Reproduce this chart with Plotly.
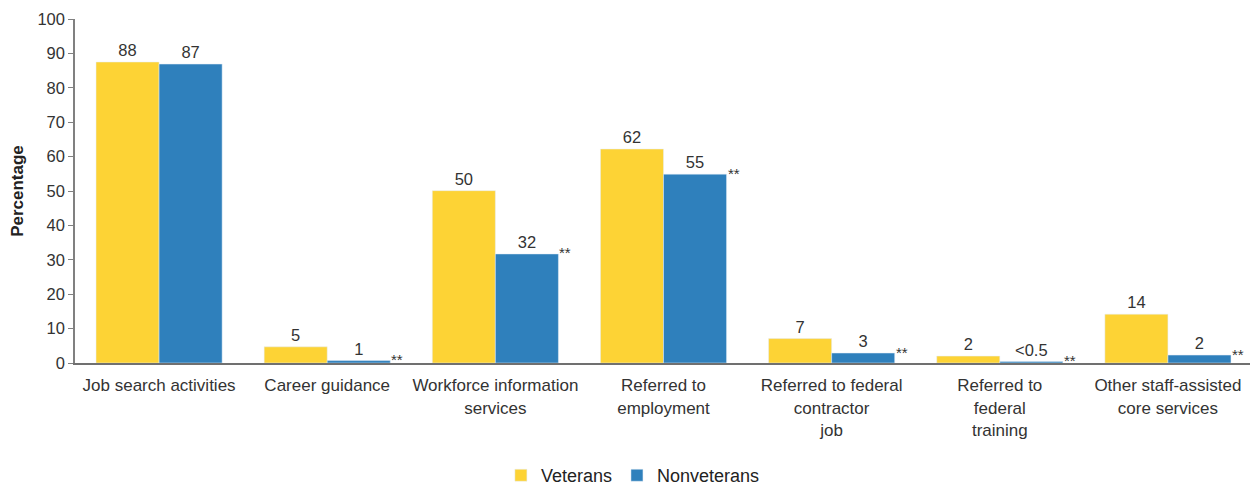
import plotly.graph_objects as go

categories = [
    "Job search activities",
    "Career guidance",
    "Workforce information<br>services",
    "Referred to<br>employment",
    "Referred to federal<br>contractor<br>job",
    "Referred to<br>federal<br>training",
    "Other staff-assisted<br>core services",
]
veterans = [87.5, 4.7, 50.1, 62.2, 7.1, 2.0, 14.2]
nonveterans = [86.9, 0.7, 31.7, 54.9, 2.9, 0.4, 2.3]
veteran_labels = ["88", "5", "50", "62", "7", "2", "14"]
nonveteran_labels = ["87", "1", "32", "55", "3", "<0.5", "2"]
significant = [False, True, True, True, True, True, True]

YELLOW = "#FDD335"
BLUE = "#2F80BC"
FONT = "Liberation Sans, Arial, sans-serif"

fig = go.Figure()
fig.add_trace(go.Bar(
    name="Veterans", x=categories, y=veterans, marker_color=YELLOW,
    text=veteran_labels, textposition="outside", cliponaxis=False,
    textfont=dict(size=16.5, color="#333333"),
))
fig.add_trace(go.Bar(
    name="Nonveterans", x=categories, y=nonveterans, marker_color=BLUE,
    text=nonveteran_labels, textposition="outside", cliponaxis=False,
    textfont=dict(size=16.5, color="#333333"),
))

for cat, val, sig in zip(categories, nonveterans, significant):
    if sig:
        fig.add_annotation(
            x=cat, y=val, xref="x", yref="y", text="**", showarrow=False,
            xanchor="left", yanchor="middle", xshift=62, yshift=1,
            font=dict(size=15, color="#333333", family=FONT),
        )

# the page body has an 8px default margin, so the figure is sized to fit the window
fig.update_layout(
    width=1250, height=483,
    margin=dict(l=67, r=6, t=11, b=128, autoexpand=False),
    paper_bgcolor="white", plot_bgcolor="white",
    font=dict(family=FONT, size=16, color="#333333"),
    barmode="group", bargap=0.25, bargroupgap=0,
    showlegend=True,
    legend=dict(orientation="h", x=0.474, xanchor="center",
                yref="container", y=0.032, yanchor="middle",
                font=dict(size=18, color="#222222"),
                traceorder="normal", itemwidth=30),
)
fig.update_yaxes(
    range=[0, 100], dtick=10, showgrid=False, zeroline=False,
    showline=True, linecolor="#808080", linewidth=1.5,
    ticks="outside", ticklen=5, tickcolor="#808080",
    tickfont=dict(size=16.5, color="#333333"),
    title=dict(text="<b>Percentage</b>", font=dict(size=17, color="#222222"), standoff=16),
    automargin=False,
)
fig.update_xaxes(
    showline=True, linecolor="#707070", linewidth=2, ticks="",
    tickfont=dict(size=17, color="#333333"), showgrid=False,
    ticklabelstandoff=6, automargin=False,
)

fig.write_html("out.html")
